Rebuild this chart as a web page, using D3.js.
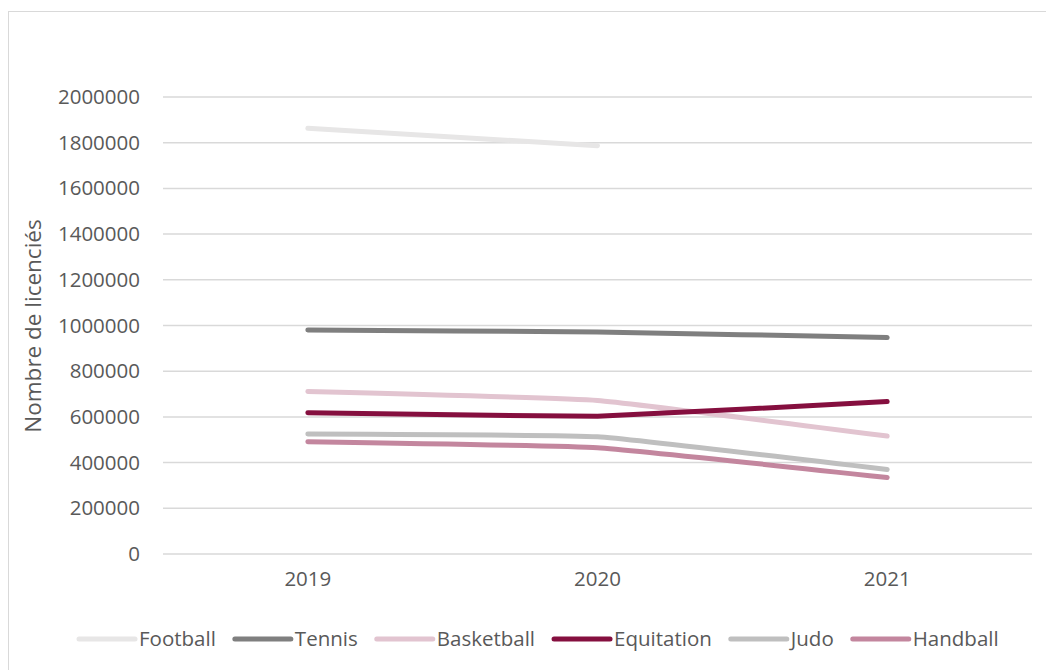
<!DOCTYPE html>
<html>
<head>
<meta charset="utf-8">
<title>Licenciés</title>
<script src="https://d3js.org/d3.v7.min.js"></script>
<style>
	body { margin: 0; background: #fff; }
	text { font-family: "Open Sans", sans-serif; fill: #595959; }
</style>
</head>
<body>
<svg width="1046" height="670"></svg>
<script>
	// Data
	var years = ["2019", "2020", "2021"];
	var sports = ["Football", "Tennis", "Basketball", "Equitation", "Judo", "Handball"];
	var football = [1863000, 1787000, null];
	var tennis = [980000, 972000, 947000];
	var basketball = [711000, 672000, 516000];
	var equitation = [618000, 603000, 667000];
	var judo = [525000, 513000, 370000];
	var handball = [491000, 465000, 335000];
	var colors = ["#e7e6e6", "#7f7f7f", "#e2c4d0", "#850f3f", "#bfbfbf", "#c3869e"];
	var yTicks = [0, 200000, 400000, 600000, 800000, 1000000, 1200000, 1400000, 1600000, 1800000, 2000000];

	var series = [football, tennis, basketball, equitation, judo, handball];

	var svg = d3.select("svg");

	// chart frame
	svg.append("rect")
		.attr("x", 8.5).attr("y", 11.5)
		.attr("width", 1060).attr("height", 680)
		.attr("fill", "none")
		.attr("stroke", "#d9d9d9");

	var x = d3.scaleBand().domain(years).range([163, 1032]);
	var y = d3.scaleLinear().domain([0, 2000000]).range([554, 97]);

	// gridlines
	svg.append("g").selectAll("line")
		.data(yTicks)
		.enter().append("line")
		.attr("x1", 163).attr("x2", 1032)
		.attr("y1", function(d) { return y(d); })
		.attr("y2", function(d) { return y(d); })
		.attr("stroke", "#d9d9d9")
		.attr("stroke-width", 1.5);

	// y axis labels
	var yAxis = d3.axisLeft(y).tickValues(yTicks).tickSize(0).tickPadding(23).tickFormat(d3.format("d"));
	svg.append("g")
		.attr("transform", "translate(163,0)")
		.call(yAxis)
		.call(function(g) { g.select(".domain").remove(); })
		.selectAll("text")
		.attr("font-size", 20.5)
		.attr("font-family", "'Open Sans', sans-serif")
		.attr("fill", "#595959");

	// x axis labels
	var xAxis = d3.axisBottom(x).tickSize(0).tickPadding(17);
	svg.append("g")
		.attr("transform", "translate(0,554)")
		.call(xAxis)
		.call(function(g) { g.select(".domain").remove(); })
		.selectAll("text")
		.attr("font-size", 20.5)
		.attr("font-family", "'Open Sans', sans-serif")
		.attr("fill", "#595959");

	// y title
	svg.append("text")
		.attr("transform", "translate(41,326) rotate(-90)")
		.attr("text-anchor", "middle")
		.attr("font-size", 22.5)
		.text("Nombre de licenciés");

	// lines
	var line = d3.line()
		.defined(function(d) { return d != null; })
		.x(function(d, i) { return x(years[i]) + x.bandwidth() / 2; })
		.y(function(d) { return y(d); })
		.curve(d3.curveCardinal.tension(0.7));

	svg.append("g").selectAll("path")
		.data(series)
		.enter().append("path")
		.attr("d", line)
		.attr("fill", "none")
		.attr("stroke", function(d, i) { return colors[i]; })
		.attr("stroke-width", 5)
		.attr("stroke-linecap", "round")
		.attr("stroke-linejoin", "round");

	// legend
	var lx = 79;
	sports.forEach(function(s, i) {
		var g = svg.append("g");
		g.append("line")
			.attr("x1", lx).attr("x2", lx + 56)
			.attr("y1", 639).attr("y2", 639)
			.attr("stroke", colors[i])
			.attr("stroke-width", 5)
			.attr("stroke-linecap", "round");
		var t = g.append("text")
			.attr("x", lx + 60)
			.attr("y", 646)
			.attr("font-size", 20.5)
			.text(s);
		lx += 60 + t.node().getComputedTextLength() + 19;
	});
</script>
</body>
</html>
